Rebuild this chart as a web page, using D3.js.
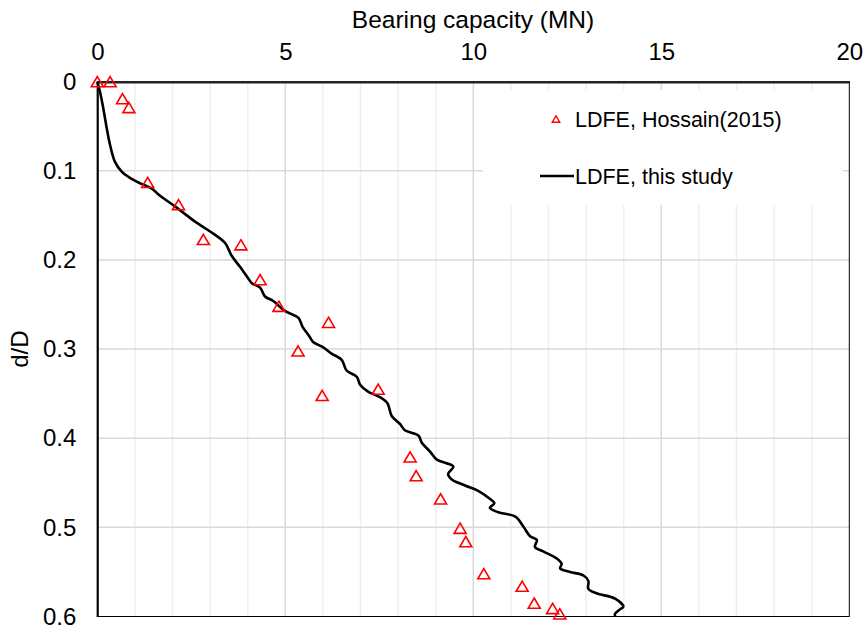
<!DOCTYPE html>
<html>
<head>
<meta charset="utf-8">
<script src="https://cdn.jsdelivr.net/npm/d3@7"></script>
<style>
  html, body { margin: 0; padding: 0; background: #fff; }
  svg { display: block; font-family: "Liberation Sans", Arial, sans-serif; }
</style>
</head>
<body>
<svg id="chart" width="868" height="628"></svg>
<script>
// ---- data ----
const xTicks = [0, 5, 10, 15, 20];
const yTicks = [0, 0.1, 0.2, 0.3, 0.4, 0.5, 0.6];
const xTickLabels = ["0", "5", "10", "15", "20"];
const yTickLabels = ["0", "0.1", "0.2", "0.3", "0.4", "0.5", "0.6"];

// LDFE, Hossain(2015) – markers
const hossainX = [0, 0.34, 0.67, 0.84, 1.34, 2.16, 2.82, 3.82, 4.33, 4.83, 6.15, 5.34, 7.47, 5.98,
                  8.32, 8.48, 9.13, 9.65, 9.80, 10.28, 11.30, 11.62, 12.11, 12.30];
const hossainY = [0, 0, 0.019, 0.029, 0.113, 0.138, 0.177, 0.183, 0.222, 0.252, 0.270, 0.302, 0.345, 0.352,
                  0.421, 0.442, 0.468, 0.501, 0.516, 0.552, 0.566, 0.585, 0.591, 0.597];

// LDFE, this study – line
const studyX = [0, 0.07, 0.16, 0.25, 0.34, 0.47, 0.65, 0.87, 1.14, 1.45, 1.67, 2.04, 2.38, 2.60, 3.0, 3.40,
                3.57, 3.80, 4.02, 4.11, 4.33, 4.46, 4.68, 4.95, 5.12, 5.35, 5.46, 5.63, 5.74, 6.01, 6.23,
                6.50, 6.63, 6.90, 6.99, 7.21, 7.52, 7.72, 7.83, 8.05, 8.18, 8.54, 8.63, 8.85, 9.03, 9.29,
                9.47, 9.33, 9.42, 9.78, 10.13, 10.44, 10.56, 10.44, 10.66, 11.12, 11.33, 11.51, 11.69,
                11.64, 11.86, 12.22, 12.35, 12.31, 12.57, 12.93, 13.06, 13.06, 13.28, 13.77, 13.99,
                13.90, 13.77, 13.77];
const studyY = [0, 0.011, 0.030, 0.052, 0.071, 0.090, 0.101, 0.108, 0.114, 0.120, 0.128, 0.139, 0.150, 0.157,
                0.168, 0.181, 0.195, 0.208, 0.221, 0.226, 0.231, 0.241, 0.246, 0.256, 0.260, 0.265, 0.275,
                0.285, 0.292, 0.298, 0.305, 0.312, 0.324, 0.331, 0.340, 0.348, 0.354, 0.361, 0.375, 0.384,
                0.391, 0.397, 0.405, 0.415, 0.424, 0.428, 0.432, 0.440, 0.446, 0.453, 0.459, 0.468, 0.473,
                0.478, 0.483, 0.488, 0.499, 0.510, 0.514, 0.522, 0.527, 0.535, 0.541, 0.546, 0.550, 0.554,
                0.560, 0.569, 0.574, 0.580, 0.589, 0.592, 0.597, 0.600];

const seriesNames = ["LDFE, Hossain(2015)", "LDFE, this study"];

// ---- layout ----
const svg = d3.select("#chart");
const L = 97.3, R = 849.3, T = 81.7, B = 616.5;
const x = d3.scaleLinear().domain([0, 20]).range([L, R]);
const y = d3.scaleLinear().domain([0, 0.6]).range([T, B]);

// gridlines
const g = svg.append("g");
g.selectAll("line.vmin").data(d3.range(1, 20).filter(v => v % 5 !== 0)).join("line")
  .attr("x1", d => x(d)).attr("x2", d => x(d)).attr("y1", T).attr("y2", B)
  .attr("stroke", "#efefef").attr("stroke-width", 1.5);
g.selectAll("line.vmaj").data([5, 10, 15]).join("line")
  .attr("x1", d => x(d)).attr("x2", d => x(d)).attr("y1", T).attr("y2", B)
  .attr("stroke", "#d9d9d9").attr("stroke-width", 1.5);
g.selectAll("line.h").data(yTicks.slice(1, -1)).join("line")
  .attr("x1", L).attr("x2", R).attr("y1", d => y(d)).attr("y2", d => y(d))
  .attr("stroke", "#d9d9d9").attr("stroke-width", 1.5);

// legend box (white, covers gridlines)
svg.append("rect").attr("x", 483).attr("y", 90).attr("width", 360).attr("height", 115).attr("fill", "#fff");

// plot border
svg.append("rect").attr("x", L).attr("y", T).attr("width", R - L).attr("height", B - T)
  .attr("fill", "none").attr("stroke", "#000").attr("stroke-width", 1);

// axes (top x, left y)
const xAxis = d3.axisTop(x).tickValues(xTicks).tickFormat((d, i) => xTickLabels[i]).tickSize(0).tickPadding(22);
const xg = svg.append("g").attr("transform", `translate(0,${T})`).call(xAxis);
xg.select(".domain").attr("stroke", "#222").attr("stroke-width", 2.5);
xg.selectAll("text").attr("font-size", 24).attr("fill", "#000").attr("font-family", "Liberation Sans, Arial, sans-serif");

const yAxis = d3.axisLeft(y).tickValues(yTicks).tickFormat((d, i) => yTickLabels[i]).tickSize(0).tickPadding(21);
const yg = svg.append("g").attr("transform", `translate(${L},0)`).call(yAxis);
yg.select(".domain").attr("stroke", "#000").attr("stroke-width", 2);
yg.selectAll("text").attr("font-size", 24).attr("fill", "#000").attr("font-family", "Liberation Sans, Arial, sans-serif");

// axis titles
svg.append("text").attr("x", (351 + 595) / 2).attr("y", 28).attr("text-anchor", "middle")
  .attr("font-size", 24.5).attr("fill", "#000").text("Bearing capacity (MN)");
svg.append("text").attr("transform", `translate(28,${y(0.3)}) rotate(-90)`).attr("text-anchor", "middle")
  .attr("font-size", 24).attr("fill", "#000").text("d/D");

// line series
const lineData = studyX.map((v, i) => [v, studyY[i]]);
svg.append("path").datum(lineData)
  .attr("d", d3.line().x(d => x(d[0])).y(d => y(d[1])).curve(d3.curveCatmullRom.alpha(0.5)))
  .attr("fill", "none").attr("stroke", "#000").attr("stroke-width", 2.6).attr("stroke-linejoin", "round");

// triangle marker symbol (bbox centered)
const tri = { draw(ctx, size) { const w = Math.sqrt(size), h = w * 0.85;
  ctx.moveTo(0, -h / 2); ctx.lineTo(w / 2, h / 2); ctx.lineTo(-w / 2, h / 2); ctx.closePath(); } };

const markData = hossainX.map((v, i) => [v, hossainY[i]]);
svg.append("g").selectAll("path").data(markData).join("path")
  .attr("transform", d => `translate(${x(d[0])},${y(d[1])})`)
  .attr("d", d3.symbol().type(tri).size(144))
  .attr("fill", "none").attr("stroke", "#ff0000").attr("stroke-width", 1.6);

// legend
svg.append("path").attr("transform", "translate(556,119)")
  .attr("d", d3.symbol().type(tri).size(56))
  .attr("fill", "none").attr("stroke", "#ff0000").attr("stroke-width", 1.4);
svg.append("text").attr("x", 575).attr("y", 126.5).attr("font-size", 21.5).attr("fill", "#000").text(seriesNames[0]);
svg.append("line").attr("x1", 540).attr("x2", 574).attr("y1", 176).attr("y2", 176)
  .attr("stroke", "#000").attr("stroke-width", 2.6);
svg.append("text").attr("x", 575).attr("y", 183.5).attr("font-size", 21.5).attr("fill", "#000").text(seriesNames[1]);
</script>
</body>
</html>
